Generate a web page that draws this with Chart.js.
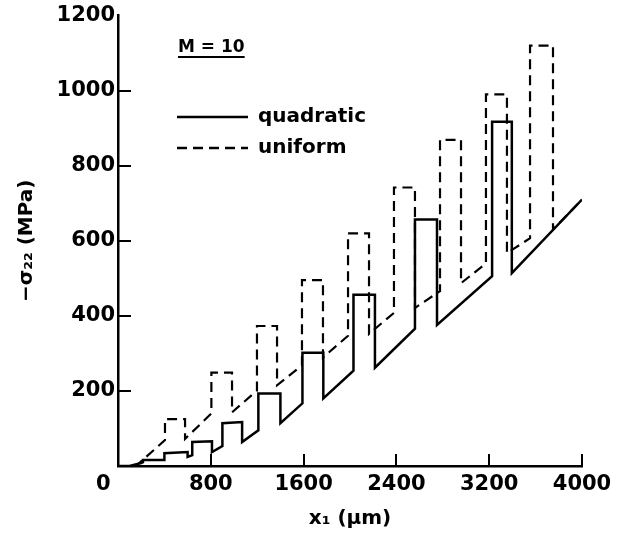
<!DOCTYPE html>
<html>
<head>
<meta charset="utf-8">
<script src="https://cdn.jsdelivr.net/npm/chart.js@4.4.0/dist/chart.umd.min.js"></script>
<style>
  html, body { margin: 0; padding: 0; background: #fff; }
</style>
</head>
<body>
<canvas id="stressChart" width="633" height="536"></canvas>
<script>
const X_TICKS = [0, 800, 1600, 2400, 3200, 4000];
const Y_TICKS = [0, 200, 400, 600, 800, 1000, 1200];
const CASE_LABEL = "M = 10";

// quadratic (solid)
const quadX = [0, 100, 200, 215, 215, 400, 400, 600, 600, 640, 640, 810, 810, 900, 900, 1070, 1070, 1210, 1210, 1400,
  1400, 1590, 1590, 1770, 1770, 2030, 2030, 2215, 2215, 2560, 2560, 2750, 2750, 3225, 3225, 3395, 3395, 4000];
const quadY = [0, 0, 8, 10, 16, 16, 34, 37, 24, 29, 64, 66, 37, 53, 114, 117, 64, 95, 193, 193,
  114, 167, 302, 302, 180, 254, 456, 456, 262, 366, 657, 657, 376, 506, 917, 917, 514, 710];

// uniform (dashed)
const unifX = [0, 155, 405, 405, 578, 578, 805, 805, 983, 983, 1198, 1198, 1371, 1371, 1586, 1586, 1767, 1767, 1983, 1983,
  2164, 2164, 2379, 2379, 2560, 2560, 2776, 2776, 2957, 2957, 3172, 3172, 3353, 3353, 3552, 3552, 3750, 3750, 4000];
const unifY = [0, 0, 69, 125, 125, 72, 140, 249, 249, 143, 201, 373, 373, 215, 268, 495, 495, 289, 347, 620,
  620, 352, 408, 742, 742, 421, 466, 869, 869, 487, 540, 990, 990, 567, 607, 1120, 1120, 630, 710];

function toPoints(xs, ys) {
  return xs.map((x, i) => ({ x, y: ys[i] }));
}

const FONT = "'DejaVu Sans'";

// kurze Ticks nach innen, wie im Original
const innerTicks = {
  id: "innerTicks",
  afterDraw(chart) {
    const { ctx, chartArea, scales } = chart;
    ctx.save();
    ctx.strokeStyle = "#000";
    ctx.lineWidth = 2;
    for (const v of X_TICKS.slice(1)) {
      const px = Math.round(scales.x.getPixelForValue(v));
      ctx.beginPath();
      ctx.moveTo(px, chartArea.bottom);
      ctx.lineTo(px, chartArea.bottom - 12);
      ctx.stroke();
    }
    for (const v of Y_TICKS.slice(1, -1)) {
      const py = Math.round(scales.y.getPixelForValue(v));
      ctx.beginPath();
      ctx.moveTo(chartArea.left, py);
      ctx.lineTo(chartArea.left + 13, py);
      ctx.stroke();
    }
    ctx.restore();
  },
};

// Legende im Diagramm: "M = 10" unterstrichen, darunter Linienmuster
const caseLegend = {
  id: "caseLegend",
  afterDatasetsDraw(chart) {
    const { ctx } = chart;
    ctx.save();
    ctx.fillStyle = "#000";
    ctx.strokeStyle = "#000";
    ctx.font = `bold 17px ${FONT}`;
    ctx.textBaseline = "alphabetic";
    ctx.fillText(CASE_LABEL, 178, 52);
    const w = ctx.measureText(CASE_LABEL).width;
    ctx.lineWidth = 2;
    ctx.beginPath();
    ctx.moveTo(178, 57);
    ctx.lineTo(178 + w, 57);
    ctx.stroke();

    chart.data.datasets.forEach((ds, i) => {
      const y = 117 + i * 31;
      ctx.setLineDash(ds.borderDash || []);
      ctx.lineWidth = 2.5;
      ctx.beginPath();
      ctx.moveTo(177, y);
      ctx.lineTo(248, y);
      ctx.stroke();
      ctx.setLineDash([]);
      ctx.font = `bold 20px ${FONT}`;
      ctx.textBaseline = "middle";
      ctx.fillText(ds.label, 258, y);
    });
    ctx.restore();
  },
};

new Chart(document.getElementById("stressChart"), {
  type: "line",
  data: {
    datasets: [
      {
        label: "quadratic",
        data: toPoints(quadX, quadY),
        borderColor: "#000",
        borderWidth: 2.5,
        pointRadius: 0,
        tension: 0,
      },
      {
        label: "uniform",
        data: toPoints(unifX, unifY),
        borderColor: "#000",
        borderWidth: 2.2,
        borderDash: [10, 6],
        pointRadius: 0,
        tension: 0,
      },
    ],
  },
  options: {
    responsive: false,
    devicePixelRatio: 1,
    animation: false,
    layout: { padding: { top: 13, right: 51, left: 0, bottom: 0 } },
    plugins: {
      legend: { display: false },
      tooltip: { enabled: false },
    },
    scales: {
      x: {
        type: "linear",
        min: 0,
        max: 4000,
        afterBuildTicks: (s) => { s.ticks = X_TICKS.map((v) => ({ value: v })); },
        afterFit: (s) => { s.height = 70; },
        grid: { drawOnChartArea: false, drawTicks: false },
        border: { display: true, color: "#000", width: 2.5 },
        ticks: {
          color: "#000",
          padding: 6,
          maxRotation: 0,
          font: { family: FONT, size: 21, weight: "bold" },
          // die 0 steht im Original links unter der Ecke
          callback: (v) => (v === 0 ? "0    " : String(v)),
        },
        title: {
          display: true,
          text: "x\u2081 (\u03bcm)",
          color: "#000",
          padding: { top: 0, bottom: 5 },
          font: { family: FONT, size: 20, weight: "bold" },
        },
      },
      y: {
        min: 0,
        max: 1200,
        afterBuildTicks: (s) => { s.ticks = Y_TICKS.map((v) => ({ value: v })); },
        afterFit: (s) => { s.width = 118; },
        grid: { drawOnChartArea: false, drawTicks: false },
        border: { display: true, color: "#000", width: 2.5 },
        ticks: {
          color: "#000",
          padding: 3,
          font: { family: FONT, size: 21, weight: "bold" },
          callback: (v) => (v === 0 ? "" : String(v)),
        },
        title: {
          display: true,
          text: "\u2212\u03c3\u2082\u2082 (MPa)",
          color: "#000",
          padding: { top: 15, bottom: 0 },
          font: { family: FONT, size: 20, weight: "bold" },
        },
      },
    },
  },
  plugins: [innerTicks, caseLegend],
});
</script>
</body>
</html>
